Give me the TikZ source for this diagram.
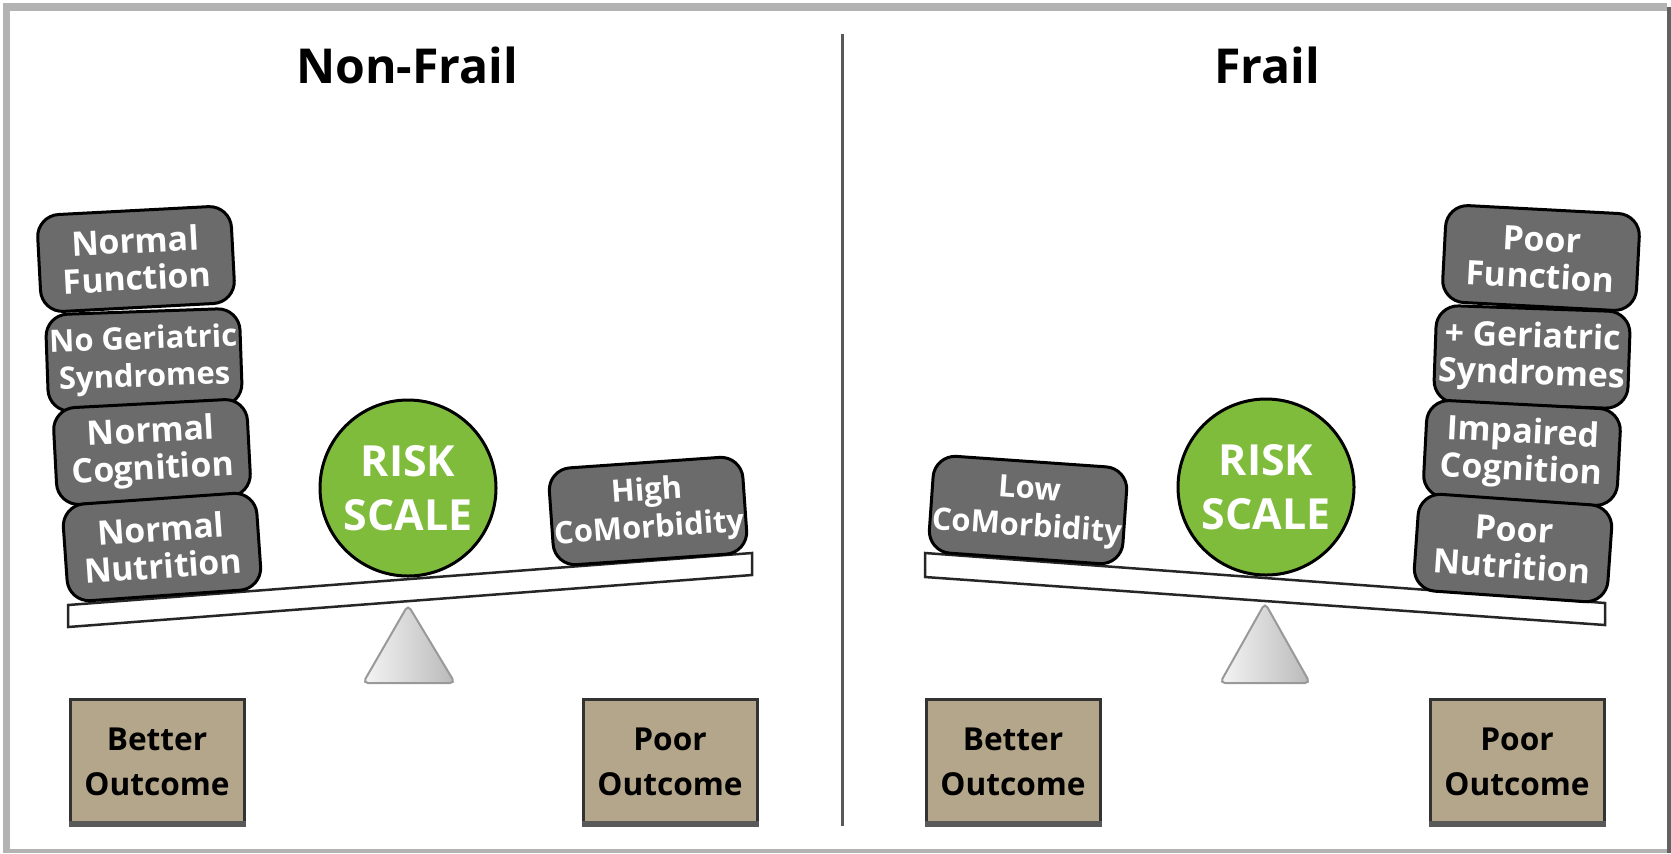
\documentclass[tikz,border=0pt]{standalone}
\usepackage{fontspec}
\setsansfont{Open Sans}
\renewcommand{\familydefault}{\sfdefault}
\usetikzlibrary{shapes.geometric}

\definecolor{blockgray}{HTML}{6B6B6B}
\definecolor{riskgreen}{HTML}{80BC3C}
\definecolor{outtan}{HTML}{B4A68A}
\definecolor{framegray}{HTML}{B3B3B3}

\begin{document}
\begin{tikzpicture}[x=0.1mm,y=-0.1mm,
  block/.style={draw=black,line width=0.3mm,fill=blockgray,rounded corners=2.2mm,
    minimum width=19.4mm,minimum height=9.7mm,inner sep=0pt,align=center,
    text=white,font=\bfseries\fontsize{9.6}{10.6}\selectfont},
  smalltxt/.style={font=\bfseries\fontsize{8.8}{10.6}\selectfont},
  ball/.style={circle,draw=black,line width=0.3mm,fill=riskgreen,minimum size=17.6mm,
    inner sep=0pt,align=center,text=white,font=\bfseries\fontsize{12.2}{15.4}\selectfont},
  outcome/.style={draw=black!80,line width=0.3mm,fill=outtan,minimum width=17.4mm,
    minimum height=12.6mm,inner sep=0pt,align=center,font=\bfseries\fontsize{9}{12.8}\selectfont},
  title/.style={anchor=base,font=\bfseries\fontsize{13.7}{16}\selectfont},
  beam/.style={draw=black!85,line width=0.25mm,fill=white},
  pivot/.style={draw=gray!80,line width=0.2mm,rounded corners=0.5mm,left color=gray!8,right color=gray!55}
]
  \useasboundingbox (0,0) rectangle (1671,853);
  \fill[white] (0,0) rectangle (1671,853);

  % frame and divider
  \fill[framegray] (3,3) rectangle (1667,11);
  \fill[framegray] (3,3) rectangle (10,853);
  \fill[framegray] (3,849) rectangle (1667,853);
  \fill[black!62] (1667,7) rectangle (1671,853);
  \draw[line width=0.3mm,black!65] (842,34) -- (842,826);

  \node[title] (tnf) at (407,83) {Non-Frail};
  \node[title] (tf) at (1267,83) {Frail};

  % non-frail scale
  \draw[pivot] (408,605) -- (455,683) -- (363,683) -- cycle;
  \draw[beam] (68,605) -- (752,553) -- (752,575) -- (68,627) -- cycle;
  \node[ball] (risk1) at (408,488) {RISK\\SCALE};
  \node[block,rotate=3] (nf1) at (136,259) {Normal\\Function};
  \node[block,smalltxt,rotate=2] (nf2) at (144,360) {No Geriatric\\Syndromes};
  \node[block,rotate=3] (nf3) at (152,452) {Normal\\Cognition};
  \node[block,rotate=4] (nf4) at (162,547) {Normal\\Nutrition};
  \node[block,smalltxt,rotate=4] (nfc) at (648,511) {High\\CoMorbidity};

  % frail scale
  \draw[pivot] (1265,603) -- (1310,683) -- (1220,683) -- cycle;
  \draw[beam] (925,553) -- (1605,603) -- (1605,625) -- (925,577) -- cycle;
  \node[ball] (risk2) at (1266,487) {RISK\\SCALE};
  \node[block,smalltxt,rotate=-4] (frc) at (1028,510) {Low\\CoMorbidity};
  \node[block,rotate=-3] (fr1) at (1541,258) {Poor\\Function};
  \node[block,rotate=-2] (fr2) at (1532,357) {+ Geriatric\\Syndromes};
  \node[block,rotate=-3] (fr3) at (1522,453) {Impaired\\Cognition};
  \node[block,rotate=-4] (fr4) at (1513,548) {Poor\\Nutrition};

  % outcomes
  \node[outcome] (ob1) at (157,762) {Better\\Outcome};
  \node[outcome] (op1) at (670,762) {Poor\\Outcome};
  \node[outcome] (ob2) at (1013,762) {Better\\Outcome};
  \node[outcome] (op2) at (1517,762) {Poor\\Outcome};
  \foreach \o in {ob1,op1,ob2,op2}
    \fill[black!65] (\o.south west) rectangle ([yshift=0.6mm]\o.south east);
\end{tikzpicture}
\end{document}
